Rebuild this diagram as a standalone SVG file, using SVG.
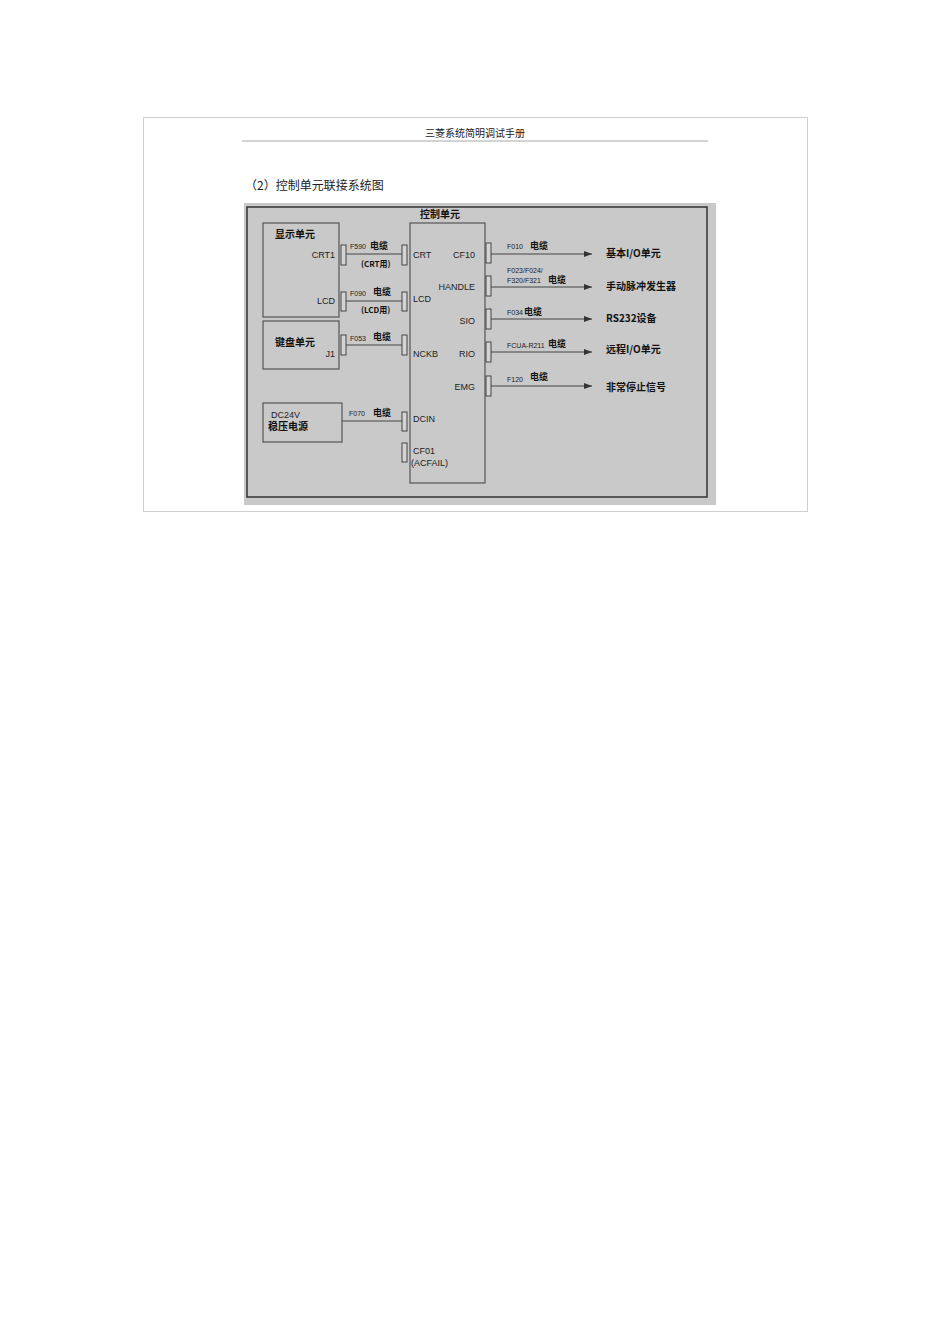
<svg xmlns="http://www.w3.org/2000/svg" width="950" height="1344" viewBox="0 0 950 1344">
<defs>
<style>
.t{font-family:"Liberation Sans","Noto Sans CJK SC",sans-serif;fill:#222;}
.c{font-family:"Noto Sans CJK SC","Liberation Sans",sans-serif;fill:#111;font-weight:bold;}
.box{fill:none;stroke:#555;stroke-width:1.2;}
.port{fill:#d4d4d4;stroke:#444;stroke-width:1;}
.ln{stroke:#444;stroke-width:1;fill:none;}
</style>
<marker id="ah" markerWidth="8" markerHeight="6" refX="8" refY="3" orient="auto" markerUnits="userSpaceOnUse">
<path d="M0,0 L8,3 L0,6 Z" fill="#333"/>
</marker>
</defs>
<rect width="950" height="1344" fill="#fff"/>
<rect x="143.5" y="117.5" width="664" height="394" fill="none" stroke="#cfcfcf" stroke-width="1"/>
<text class="t" x="475" y="137" font-size="10" text-anchor="middle" style="font-family:'Noto Sans CJK SC',sans-serif">三菱系统简明调试手册</text>
<line x1="242" y1="141" x2="708" y2="141" stroke="#c4c4c4" stroke-width="1.5"/>
<text class="t" x="245" y="190" font-size="12" style="font-family:'Noto Sans CJK SC',sans-serif">（2）控制单元联接系统图</text>
<rect x="244" y="203" width="472" height="302" fill="#c9c9c9"/>
<rect x="247" y="207" width="460" height="290" fill="none" stroke="#333" stroke-width="1.5"/>

<g id="display">
<rect class="box" x="263" y="223" width="76" height="94"/>
<text class="c" x="275" y="238" font-size="10">显示单元</text>
<text class="t" x="335" y="258" font-size="9" text-anchor="end">CRT1</text>
<text class="t" x="335" y="304" font-size="9" text-anchor="end">LCD</text>
<rect class="port" x="341" y="245" width="5" height="20"/>
<rect class="port" x="341" y="292" width="5" height="19"/>
</g>
<g id="keyboard">
<rect class="box" x="263" y="321" width="76" height="48"/>
<text class="c" x="275" y="346" font-size="10">键盘单元</text>
<text class="t" x="335" y="357" font-size="9" text-anchor="end">J1</text>
<rect class="port" x="341" y="335" width="5" height="20"/>
</g>
<g id="power">
<rect class="box" x="263" y="403" width="79" height="39"/>
<text class="t" x="271" y="418" font-size="9">DC24V</text>
<text class="c" x="268" y="430" font-size="10">稳压电源</text>
</g>
<g id="control">
<text class="c" x="440" y="218" font-size="10" text-anchor="middle">控制单元</text>
<rect class="box" x="410" y="223" width="75" height="260"/>
<rect class="port" x="402" y="245" width="5" height="20"/>
<rect class="port" x="402" y="292" width="5" height="19"/>
<rect class="port" x="402" y="335" width="5" height="20"/>
<rect class="port" x="402" y="412" width="5" height="19"/>
<rect class="port" x="402" y="443" width="5" height="19"/>
<text class="t" x="413" y="258" font-size="9">CRT</text>
<text class="t" x="413" y="302" font-size="9">LCD</text>
<text class="t" x="413" y="357" font-size="9">NCKB</text>
<text class="t" x="413" y="422" font-size="9">DCIN</text>
<text class="t" x="413" y="454" font-size="9">CF01</text>
<text class="t" x="411" y="466" font-size="9">(ACFAIL)</text>
<text class="t" x="475" y="258" font-size="9" text-anchor="end">CF10</text>
<text class="t" x="475" y="290" font-size="9" text-anchor="end">HANDLE</text>
<text class="t" x="475" y="324" font-size="9" text-anchor="end">SIO</text>
<text class="t" x="475" y="357" font-size="9" text-anchor="end">RIO</text>
<text class="t" x="475" y="390" font-size="9" text-anchor="end">EMG</text>
<rect class="port" x="486" y="243" width="5" height="20"/>
<rect class="port" x="486" y="276" width="5" height="20"/>
<rect class="port" x="486" y="309" width="5" height="20"/>
<rect class="port" x="486" y="342" width="5" height="20"/>
<rect class="port" x="486" y="376" width="5" height="20"/>
</g>
<g id="targets">
<text class="c" x="606" y="257" font-size="10">基本I/O单元</text>
<text class="c" x="606" y="290" font-size="10">手动脉冲发生器</text>
<text class="c" x="606" y="322" font-size="10">RS232设备</text>
<text class="c" x="606" y="353" font-size="10">远程I/O单元</text>
<text class="c" x="606" y="391" font-size="10">非常停止信号</text>
</g>
<g id="connectors">
<line class="ln" x1="346" y1="254" x2="402" y2="254"/>
<line class="ln" x1="346" y1="301" x2="402" y2="301"/>
<line class="ln" x1="346" y1="345" x2="402" y2="345"/>
<line class="ln" x1="342" y1="421" x2="402" y2="421"/>
<line class="ln" x1="491" y1="254" x2="592" y2="254" marker-end="url(#ah)"/>
<line class="ln" x1="491" y1="287" x2="592" y2="287" marker-end="url(#ah)"/>
<line class="ln" x1="491" y1="319" x2="592" y2="319" marker-end="url(#ah)"/>
<line class="ln" x1="491" y1="352" x2="592" y2="352" marker-end="url(#ah)"/>
<line class="ln" x1="491" y1="386" x2="592" y2="386" marker-end="url(#ah)"/>
<text class="t" x="350" y="249" font-size="7">F590</text>
<text class="c" x="370" y="249" font-size="9">电缆</text>
<text class="c" x="361" y="267" font-size="8">(CRT用)</text>
<text class="t" x="350" y="296" font-size="7">F090</text>
<text class="c" x="373" y="295" font-size="9">电缆</text>
<text class="c" x="361" y="313" font-size="8">(LCD用)</text>
<text class="t" x="350" y="341" font-size="7">F053</text>
<text class="c" x="373" y="340" font-size="9">电缆</text>
<text class="t" x="349" y="416" font-size="7">F070</text>
<text class="c" x="373" y="416" font-size="9">电缆</text>
<text class="t" x="507" y="249" font-size="7">F010</text>
<text class="c" x="530" y="249" font-size="9">电缆</text>
<text class="t" x="507" y="273" font-size="7">F023/F024/</text>
<text class="t" x="507" y="283" font-size="7">F320/F321</text>
<text class="c" x="548" y="283" font-size="9">电缆</text>
<text class="t" x="507" y="315" font-size="7">F034</text>
<text class="c" x="524" y="315" font-size="9">电缆</text>
<text class="t" x="507" y="348" font-size="7">FCUA-R211</text>
<text class="c" x="548" y="347" font-size="9">电缆</text>
<text class="t" x="507" y="382" font-size="7">F120</text>
<text class="c" x="530" y="380" font-size="9">电缆</text>
</g>
</svg>
